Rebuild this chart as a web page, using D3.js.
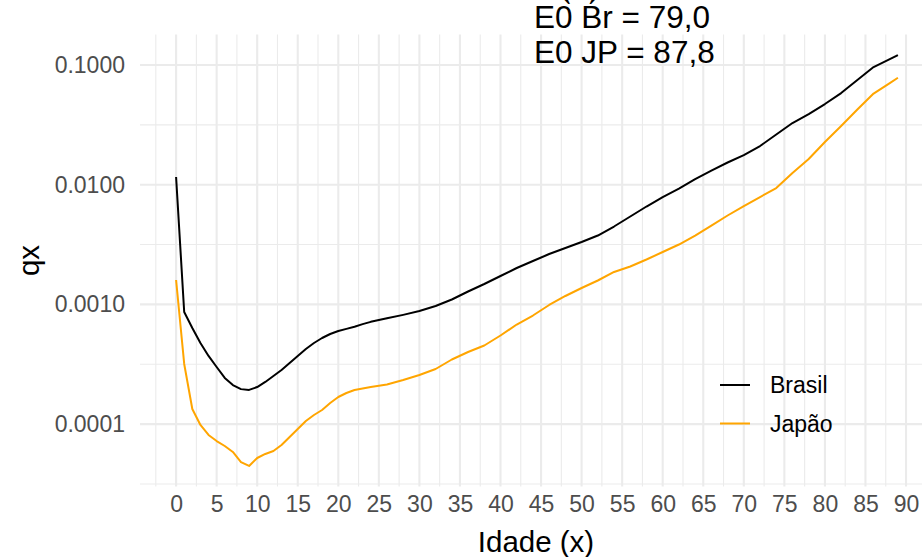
<!DOCTYPE html>
<html><head><meta charset="utf-8">
<script src="https://cdn.jsdelivr.net/npm/d3@7"></script>
<style>
body{margin:0;background:#fff;}
svg{display:block;font-family:"Liberation Sans",Arial,Helvetica,sans-serif;}
</style>
</head><body><svg id="c" width="922" height="557"></svg>
<script>
// ---- data ----
const ages = [0,1,2,3,4,5,6,7,8,9,10,11,12,13,14,15,16,17,18,19,20,21,22,23,24,
  26,28,30,32,34,36,38,40,42,44,46,48,50,52,54,56,58,60,62,64,66,68,70,72,74,76,78,80,82,84,86,88,89];
const brasil = [0.0116,0.000864,0.000635,0.000476,0.000371,0.000300,0.000243,0.000212,0.000196,0.000193,
  0.000204,0.000225,0.000252,0.000283,0.000324,0.000371,0.000424,0.000476,0.000524,0.000566,
  0.000599,0.000625,0.000651,0.000684,0.000715,
  0.000765,0.000818,0.000881,0.000970,0.001099,0.001282,0.001481,0.001727,0.002014,0.002305,
  0.002637,0.002959,0.003321,0.003763,0.004475,0.005425,0.006575,0.007890,0.009296,0.01116,
  0.01314,0.01533,0.01770,0.02105,0.02627,0.03278,0.03897,0.04722,0.05834,0.07493,0.09623,0.1120,0.1212];
const japao = [0.001599,0.000318,0.0001337,0.0000983,0.0000811,0.0000722,0.0000656,0.0000585,0.0000482,0.0000447,
  0.0000521,0.0000563,0.0000596,0.0000669,0.0000780,0.0000910,0.0001061,0.0001191,0.0001312,0.0001501,
  0.0001684,0.0001819,0.0001928,0.0001984,0.0002042,
  0.0002142,0.0002335,0.0002572,0.0002886,0.0003465,0.0004003,0.0004535,0.0005497,0.0006794,0.0008079,
  0.000989,0.001176,0.001371,0.001584,0.001866,0.002073,0.002372,0.002741,0.003165,0.003763,
  0.004561,0.005531,0.006639,0.007890,0.009385,0.01252,0.01639,0.02273,0.03094,0.04248,0.05778,0.07072,0.07832];
const seriesNames = ["Brasil", "Japão"];
const seriesColors = ["#000000", "#FFA500"];
const xTicks = d3.range(0, 91, 5);
const yTicks = [0.0001, 0.001, 0.01, 0.1];
const yTickLabels = ["0.0001", "0.0010", "0.0100", "0.1000"];
const titleLines = ["E0\u0300 B\u0301r = 79,0", "E0 JP = 87,8"];
const xTitle = "Idade (x)";
const yTitle = "qx";

// ---- layout ----
const svg = d3.select("#c");
const panel = {left: 140, right: 934, top: 34.5, bottom: 486.5};

const xMin = d3.min(ages), xMax = d3.max(ages);
const xPad = (xMax - xMin) * 0.05;
const x = d3.scaleLinear().domain([xMin - xPad, xMax + xPad]).range([panel.left, panel.right]);

const allQ = brasil.concat(japao);
const lMin = Math.log10(d3.min(allQ)), lMax = Math.log10(d3.max(allQ));
const lPad = (lMax - lMin) * 0.05;
const y = d3.scaleLog().domain([Math.pow(10, lMin - lPad), Math.pow(10, lMax + lPad)]).range([panel.bottom, panel.top]);

// grid
const grid = svg.append("g");
const xMinor = d3.range(-2.5, 95, 5).filter(v => x(v) >= panel.left && x(v) <= panel.right);
const yMinor = [-4.5, -3.5, -2.5, -1.5, -0.5].map(v => Math.pow(10, v)).filter(v => y(v) >= panel.top && y(v) <= panel.bottom);
grid.selectAll(".xm").data(xMinor).enter().append("line")
  .attr("x1", d => x(d)).attr("x2", d => x(d)).attr("y1", panel.top).attr("y2", panel.bottom)
  .attr("stroke", "#ebebeb").attr("stroke-width", 1.1);
grid.selectAll(".ym").data(yMinor).enter().append("line")
  .attr("x1", panel.left).attr("x2", panel.right).attr("y1", d => y(d)).attr("y2", d => y(d))
  .attr("stroke", "#ebebeb").attr("stroke-width", 1.1);
grid.selectAll(".xM").data(xTicks).enter().append("line")
  .attr("x1", d => x(d)).attr("x2", d => x(d)).attr("y1", panel.top).attr("y2", panel.bottom)
  .attr("stroke", "#ebebeb").attr("stroke-width", 2.1);
grid.selectAll(".yM").data(yTicks).enter().append("line")
  .attr("x1", panel.left).attr("x2", panel.right).attr("y1", d => y(d)).attr("y2", d => y(d))
  .attr("stroke", "#ebebeb").attr("stroke-width", 2.1);

// axes
const xAxis = svg.append("g").attr("transform", `translate(0,${panel.bottom})`)
  .call(d3.axisBottom(x).tickValues(xTicks).tickSize(0).tickPadding(9).tickFormat(d3.format("d")));
xAxis.select(".domain").remove();
xAxis.selectAll("text").attr("font-size", 23).attr("fill", "#4d4d4d")
  .attr("font-family", "'Liberation Sans',Arial,sans-serif");

const yAxis = svg.append("g").attr("transform", `translate(${panel.left},0)`)
  .call(d3.axisLeft(y).tickValues(yTicks).tickSize(0).tickPadding(15).tickFormat((d, i) => yTickLabels[i]));
yAxis.select(".domain").remove();
yAxis.selectAll("text").attr("font-size", 23).attr("fill", "#4d4d4d")
  .attr("font-family", "'Liberation Sans',Arial,sans-serif");

// lines
const series = [brasil, japao];
const line = d3.line().x(d => x(d[0])).y(d => y(d[1]));
series.forEach((vals, i) => {
  svg.append("path").datum(ages.map((a, j) => [a, vals[j]]))
    .attr("d", line).attr("fill", "none")
    .attr("stroke", seriesColors[i]).attr("stroke-width", 2)
    .attr("stroke-linejoin", "round").attr("stroke-linecap", "butt");
});

// axis titles
svg.append("text").attr("x", (panel.left + 906 + 30) / 2 - 2).attr("y", 552)
  .attr("text-anchor", "middle").attr("font-size", 29.5).attr("fill", "#000").text(xTitle);
svg.append("text").attr("transform", `translate(39,${(panel.top + panel.bottom) / 2}) rotate(-90)`)
  .attr("text-anchor", "middle").attr("font-size", 29.5).attr("fill", "#000").text(yTitle);

// title
titleLines.forEach((s, i) => {
  svg.append("text").attr("x", 534).attr("y", 28 + i * 34.5).attr("font-size", 31.5).attr("fill", "#000").text(s);
});

// legend
const leg = svg.append("g");
seriesNames.forEach((n, i) => {
  const yy = 385 + i * 38.5;
  leg.append("line").attr("x1", 720).attr("x2", 750).attr("y1", yy).attr("y2", yy)
    .attr("stroke", seriesColors[i]).attr("stroke-width", 2);
  leg.append("text").attr("x", 770).attr("y", yy).attr("dy", "0.36em")
    .attr("font-size", 23).attr("fill", "#000").text(n);
});
</script>
</body></html>
